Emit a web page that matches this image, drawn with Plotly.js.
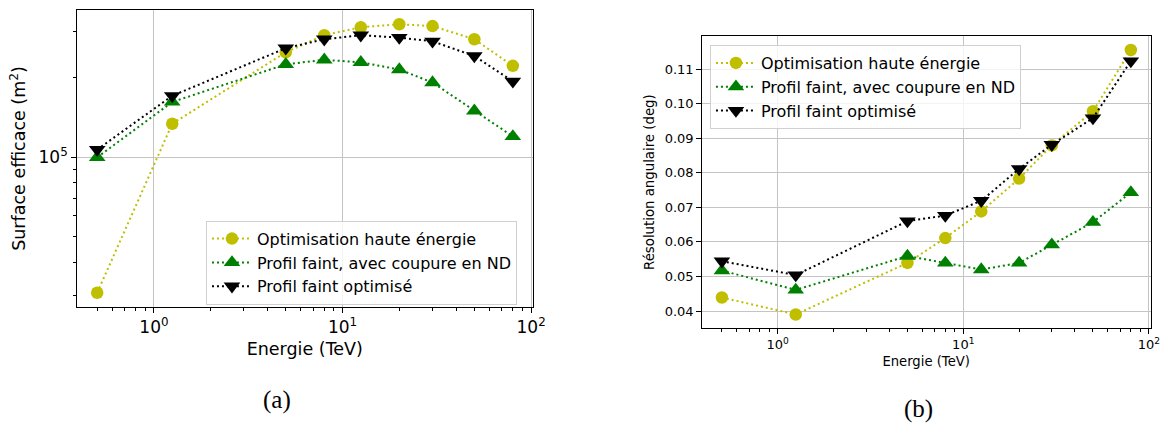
<!DOCTYPE html>
<html>
<head>
<meta charset="utf-8">
<script src="https://cdn.plot.ly/plotly-3.0.1.min.js"></script>
<style>html,body{margin:0;padding:0;background:#fff;}#chart{width:1165px;height:423px;}</style>
</head>
<body>
<div id="chart"></div>
<script>
// ---- data ----
var energies = [0.5, 1.25, 5, 8, 12.5, 20, 30, 50, 80];
var seriesNames = ["Optimisation haute énergie", "Profil faint, avec coupure en ND", "Profil faint optimisé"];
var areaHighE = [3.07e4, 1.34e5, 2.50e5, 2.90e5, 3.11e5, 3.19e5, 3.14e5, 2.80e5, 2.22e5];
var areaFaintND = [1.00e5, 1.62e5, 2.25e5, 2.34e5, 2.29e5, 2.15e5, 1.92e5, 1.50e5, 1.20e5];
var areaFaintOpt = [1.07e5, 1.71e5, 2.59e5, 2.80e5, 2.90e5, 2.84e5, 2.75e5, 2.42e5, 1.94e5];
var resHighE = [0.0439, 0.0390, 0.0539, 0.0611, 0.0688, 0.0783, 0.0879, 0.0978, 0.1155];
var resFaintND = [0.0517, 0.0461, 0.0559, 0.0539, 0.0520, 0.0539, 0.0592, 0.0657, 0.0743];
var resFaintOpt = [0.0544, 0.0504, 0.0660, 0.0676, 0.0719, 0.0811, 0.0881, 0.0958, 0.1123];
var xTickVals = [1, 10, 100];
var xTickText = ["10<sup>0</sup>", "10<sup>1</sup>", "10<sup>2</sup>"];
var xMinorVals = [0.5, 0.6, 0.7, 0.8, 0.9, 2, 3, 4, 5, 6, 7, 8, 9, 20, 30, 40, 50, 60, 70, 80, 90];
var yAreaTickVals = [1e5];
var yAreaTickText = ["10<sup>5</sup>"];
var yAreaMinorVals = [3e4, 4e4, 5e4, 6e4, 7e4, 8e4, 9e4, 2e5, 3e5];
var yResTickVals = [0.04, 0.05, 0.06, 0.07, 0.08, 0.09, 0.10, 0.11];

// ---- styles ----
var FONT = "DejaVu Sans, sans-serif";
var styles = [
  {color: "#bfbf00", symbol: "circle", size: 12.5},
  {color: "#008000", symbol: "triangle-up", size: 14.5},
  {color: "#000000", symbol: "triangle-down", size: 14.5}
];
var lineDash = "2px,3px";

function mk(i, y, xa, ya, leg) {
  return {
    x: energies, y: y, xaxis: xa, yaxis: ya, name: seriesNames[i],
    type: "scatter", mode: "lines+markers", legend: leg,
    line: {color: styles[i].color, width: 2, dash: lineDash},
    marker: {color: styles[i].color, symbol: styles[i].symbol, size: styles[i].size, line: {width: 0}}
  };
}
var traces = [
  mk(0, areaHighE, "x", "y", "legend"),
  mk(1, areaFaintND, "x", "y", "legend"),
  mk(2, areaFaintOpt, "x", "y", "legend"),
  mk(0, resHighE, "x2", "y2", "legend2"),
  mk(1, resFaintND, "x2", "y2", "legend2"),
  mk(2, resFaintOpt, "x2", "y2", "legend2")
];

function logX(domain, fs, titleFs, standoff) {
  return {
    type: "log", domain: domain, range: [-0.41, 2.01],
    tickmode: "array", tickvals: xTickVals, ticktext: xTickText,
    ticks: "outside", ticklen: 4.5, tickwidth: 1, tickcolor: "#000",
    showline: true, linecolor: "#000", linewidth: 1, mirror: true,
    showgrid: true, gridcolor: "#c4c4c4", gridwidth: 1, zeroline: false,
    tickfont: {family: FONT, size: fs, color: "#000"},
    minor: {tickmode: "array", tickvals: xMinorVals, ticks: "outside", ticklen: 2.5, tickwidth: 1, tickcolor: "#000", showgrid: false},
    title: {text: "Energie (TeV)", font: {family: FONT, size: titleFs, color: "#000"}, standoff: standoff}
  };
}

var layout = {
  width: 1165, height: 423,
  margin: {l: 0, r: 0, t: 0, b: 0},
  paper_bgcolor: "#fff", plot_bgcolor: "#fff",
  showlegend: true,
  xaxis: Object.assign(logX([0.0658, 0.4575], 17, 17.5, 6), {anchor: "y"}),
  yaxis: {
    type: "log", domain: [0.2742, 0.9764], range: [4.433, 5.558], anchor: "x",
    tickmode: "array", tickvals: yAreaTickVals, ticktext: yAreaTickText,
    ticks: "outside", ticklen: 4.5, tickwidth: 1, tickcolor: "#000",
    showline: true, linecolor: "#000", linewidth: 1, mirror: true,
    showgrid: true, gridcolor: "#c4c4c4", gridwidth: 1, zeroline: false,
    tickfont: {family: FONT, size: 17, color: "#000"},
    minor: {tickmode: "array", tickvals: yAreaMinorVals, ticks: "outside", ticklen: 2.5, tickwidth: 1, tickcolor: "#000", showgrid: false},
    title: {text: "Surface efficace (m<sup>2</sup>)", font: {family: FONT, size: 17.5, color: "#000"}, standoff: 8}
  },
  xaxis2: Object.assign(logX([0.6023, 0.9877], 13, 13.2, 5), {anchor: "y2"}),
  yaxis2: {
    type: "linear", domain: [0.2239, 0.9149], range: [0.035, 0.11955], anchor: "x2",
    tickmode: "array", tickvals: yResTickVals, tickformat: ".2f",
    ticks: "outside", ticklen: 4.5, tickwidth: 1, tickcolor: "#000",
    showline: true, linecolor: "#000", linewidth: 1, mirror: true,
    showgrid: true, gridcolor: "#c4c4c4", gridwidth: 1, zeroline: false,
    tickfont: {family: FONT, size: 13, color: "#000"},
    title: {text: "Résolution angulaire (deg)", font: {family: FONT, size: 13.3, color: "#000"}, standoff: 6}
  },
  legend: {
    x: 0.1768, y: 0.4783, xanchor: "left", yanchor: "top",
    bgcolor: "rgba(255,255,255,0.8)", bordercolor: "#d0d0d0", borderwidth: 1,
    font: {family: FONT, size: 16, color: "#000"}, itemsizing: "trace", itemwidth: 40,
    tracegroupgap: 0
  },
  legend2: {
    x: 0.6094, y: 0.8936, xanchor: "left", yanchor: "top",
    bgcolor: "rgba(255,255,255,0.8)", bordercolor: "#d0d0d0", borderwidth: 1,
    font: {family: FONT, size: 16, color: "#000"}, itemsizing: "trace", itemwidth: 40,
    tracegroupgap: 0
  },
  annotations: [
    {text: "(a)", xref: "paper", yref: "paper", x: 0.2378, y: 0.0544, xanchor: "center", yanchor: "middle", showarrow: false,
     font: {family: "Liberation Serif, serif", size: 25, color: "#000"}},
    {text: "(b)", xref: "paper", yref: "paper", x: 0.788, y: 0.0331, xanchor: "center", yanchor: "middle", showarrow: false,
     font: {family: "Liberation Serif, serif", size: 25, color: "#000"}}
  ]
};

Plotly.newPlot("chart", traces, layout, {displayModeBar: false, staticPlot: true});
</script>
</body>
</html>
